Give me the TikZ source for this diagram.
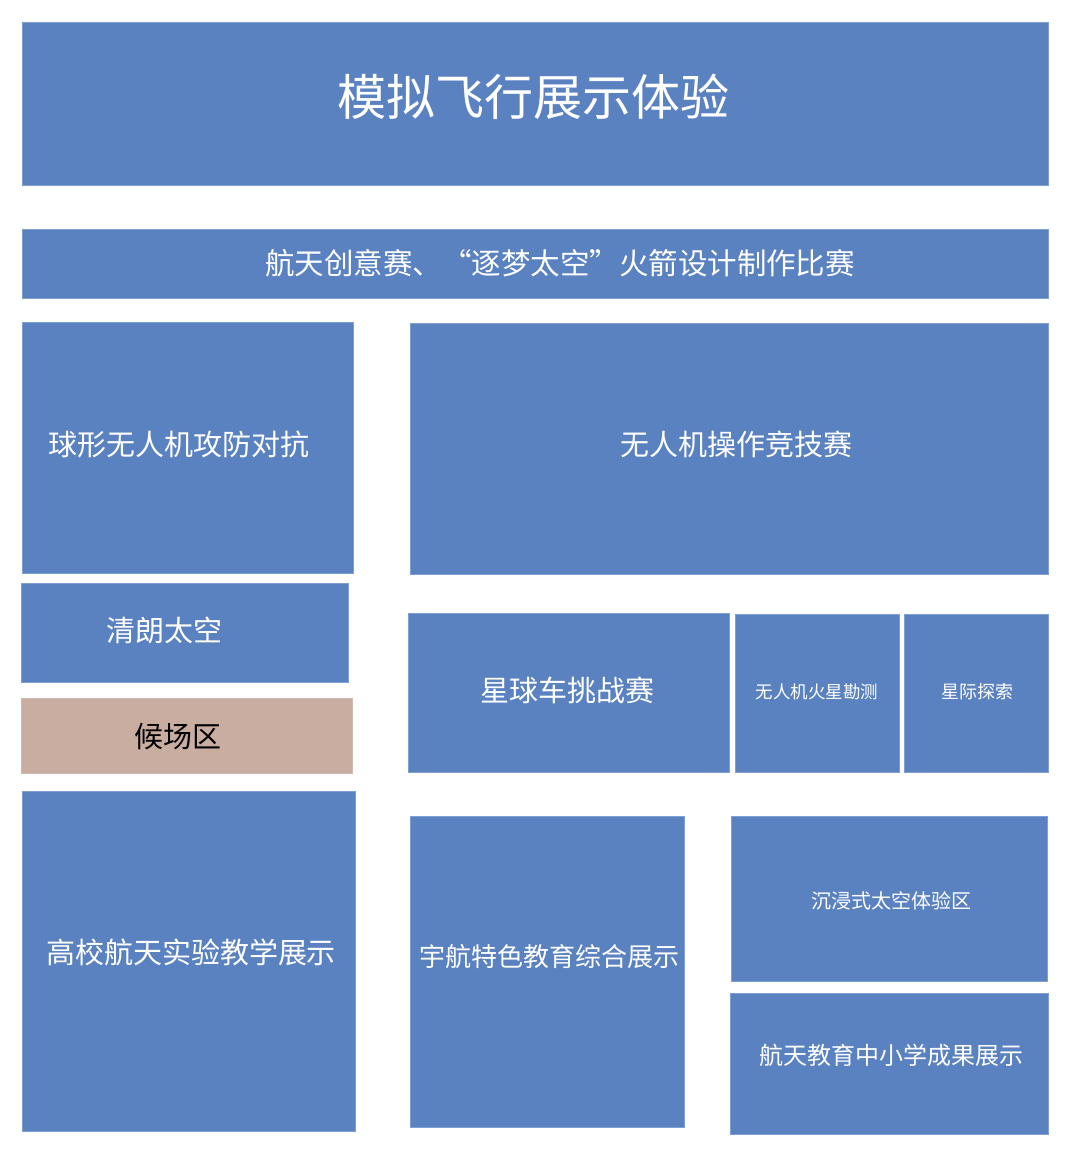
\documentclass[tikz,border=0pt]{standalone}
\usepackage{fontspec}
\usepackage{xcolor}
\newfontfamily\cjk{Noto Sans CJK SC}
\definecolor{zoneblue}{HTML}{5A82C1}
\definecolor{zoneedge}{HTML}{7E9FD3}
\definecolor{waitbrown}{HTML}{C9ADA0}
\usetikzlibrary{positioning}

\begin{document}
\begin{tikzpicture}[
x=1pt, y=-1pt,
zone-node/.style = {rectangle, fill=zoneblue, draw=zoneedge, line width=0.8pt, inner sep=0pt},
wait-node/.style = {zone-node, fill=waitbrown, draw=waitbrown!85!white},
zone-text/.style = {inner sep=0pt, text=white, font=\cjk\fontsize{#1}{#1}\selectfont},
wait-text/.style = {zone-text=#1, text=black}
]
\fill[white] (0,0) rectangle (1080,1163);
\useasboundingbox (0,0) rectangle (1080,1163);

% top rows
\node [zone-node, minimum width=1026pt, minimum height=163pt,
  label={[zone-text=49, xshift=-2pt, yshift=6.5pt]center:模拟飞行展示体验}] (title) at (535,103.5) {};
\node [zone-node, minimum width=1026pt, minimum height=69pt,
  label={[zone-text=29.5, xshift=25pt]center:航天创意赛、“逐梦太空”火箭设计制作比赛}] (rocket) at (535,263.5) {};

% left column
\node [zone-node, minimum width=331pt, minimum height=251pt,
  label={[zone-text=29, xshift=-8.5pt, yshift=3.5pt]center:球形无人机攻防对抗}] (ball) at (187.5,447.5) {};
\node [zone-node, minimum width=327pt, minimum height=99pt,
  label={[zone-text=29, xshift=-20.5pt, yshift=2.5pt]center:清朗太空}] (clear) at (184.5,632.5) {};
\node [wait-node, minimum width=331pt, minimum height=75pt,
  label={[wait-text=29, xshift=-8.5pt, yshift=-1.5pt]center:候场区}] (wait) at (186.5,735.5) {};
\node [zone-node, minimum width=333pt, minimum height=340pt,
  label={[zone-text=29, xshift=2.5pt, yshift=9pt]center:高校航天实验教学展示}] (college) at (188.5,961) {};

% middle and right
\node [zone-node, minimum width=638pt, minimum height=251pt,
  label={[zone-text=29, xshift=7pt, yshift=4.5pt]center:无人机操作竞技赛}] (drone) at (729,448.5) {};
\node [zone-node, minimum width=321pt, minimum height=159pt,
  label={[zone-text=29, xshift=-1.5pt, yshift=2.5pt]center:星球车挑战赛}] (rover) at (568.5,692.5) {};
\node [zone-node, minimum width=164pt, minimum height=158pt,
  label={[zone-text=17.5, yshift=1pt]center:无人机火星勘测}] (mars) at (817,693) {};
\node [zone-node, minimum width=144pt, minimum height=158pt,
  label={[zone-text=18, xshift=1pt, yshift=1pt]center:星际探索}] (star) at (976,693) {};
\node [zone-node, minimum width=274pt, minimum height=311pt,
  label={[zone-text=26, xshift=2pt, yshift=14.5pt]center:宇航特色教育综合展示}] (astro) at (547,971.5) {};
\node [zone-node, minimum width=316pt, minimum height=165pt,
  label={[zone-text=20, xshift=2pt, yshift=-2.5pt]center:沉浸式太空体验区}] (immerse) at (889,898.5) {};
\node [zone-node, minimum width=318pt, minimum height=141pt,
  label={[zone-text=24, xshift=2pt, yshift=8.5pt]center:航天教育中小学成果展示}] (school) at (889,1063.5) {};

\end{tikzpicture}
\end{document}
